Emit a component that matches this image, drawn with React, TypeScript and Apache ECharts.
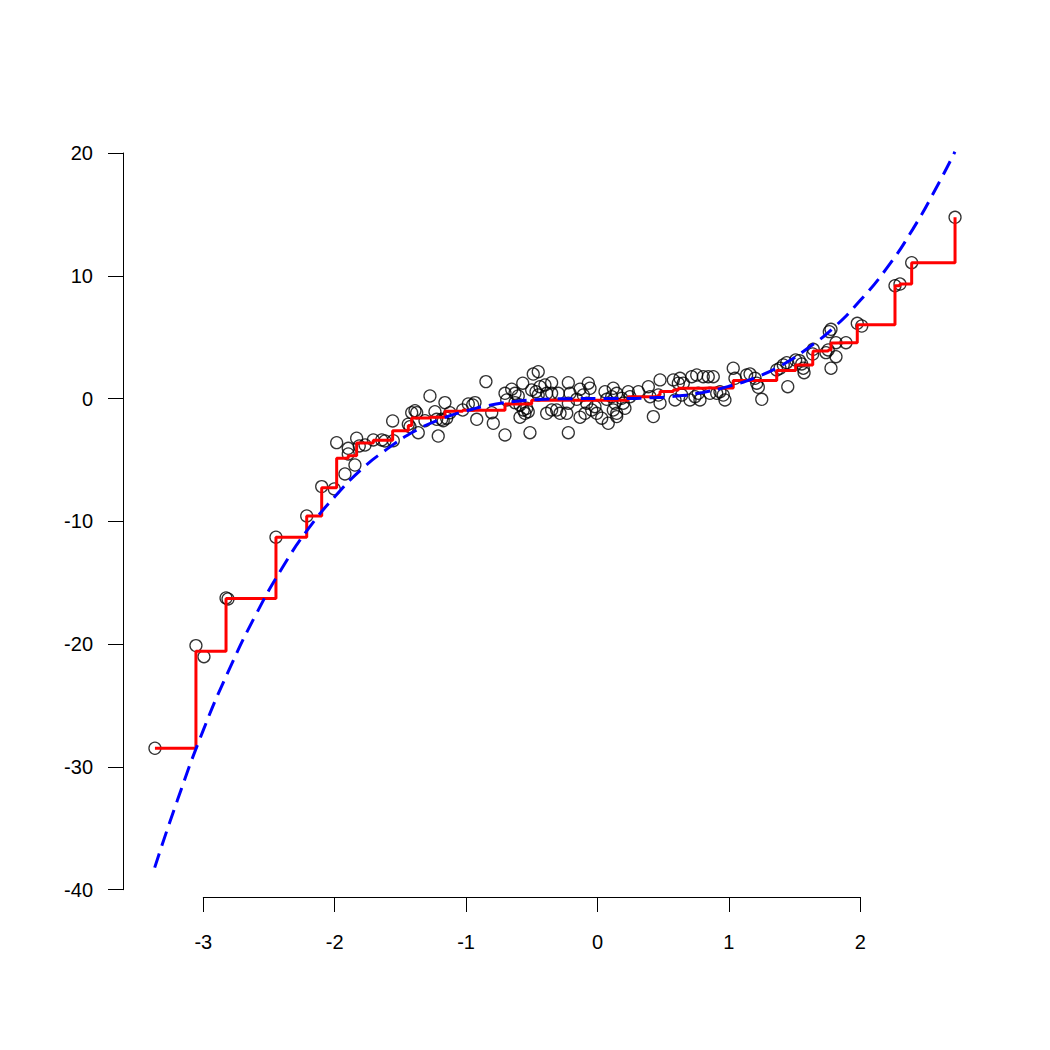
import React, { useEffect, useRef } from "react";
import * as echarts from "echarts";

// Scatter points (x, y)
const pointX: number[] = [
  -3.368, -3.056, -2.995, -2.827, -2.812, -2.447, -2.213, -2.099, -2.003, -1.985,
  -1.922, -1.897, -1.897, -1.846, -1.833, -1.813, -1.769, -1.706, -1.642, -1.617,
  -1.554, -1.559, -1.44, -1.427, -1.364, -1.414, -1.389, -1.376, -1.313, -1.275,
  -1.237, -1.212, -1.224, -1.186, -1.161, -1.174, -1.148, -1.123, -1.026, -0.983,
  -0.95, -0.932, -0.919, -0.849, -0.793, -0.805, -0.704, -0.704, -0.691, -0.653,
  -0.628, -0.628, -0.603, -0.59, -0.569, -0.565, -0.552, -0.539, -0.527, -0.514,
  -0.59, -0.489, -0.451, -0.501, -0.468, -0.451, -0.438, -0.4, -0.387, -0.349,
  -0.349, -0.387, -0.349, -0.311, -0.285, -0.298, -0.222, -0.209, -0.222, -0.234,
  -0.222, -0.133, -0.108, -0.158, -0.133, -0.095, -0.07, -0.057, -0.082, -0.019,
  -0.044, -0.006, 0.032, 0.057, 0.07, 0.12, 0.12, 0.082, 0.146, 0.108,
  0.146, 0.133, 0.146, 0.184, 0.196, 0.234, 0.247, 0.209, 0.311, 0.387,
  0.4, 0.463, 0.476, 0.425, 0.476, 0.577, 0.59, 0.615, 0.628, 0.641,
  0.653, 0.704, 0.717, 0.742, 0.755, 0.767, 0.805, 0.78, 0.843, 0.881,
  0.856, 0.907, 0.932, 0.957, 0.97, 1.033, 1.046, 1.135, 1.161, 1.199,
  1.212, 1.224, 1.25, 1.364, 1.389, 1.414, 1.44, 1.448, 1.508, 1.536,
  1.554, 1.566, 1.572, 1.638, 1.642, 1.739, 1.756, 1.815, 1.777, 1.815,
  1.891, 1.764, 1.777, 1.977, 2.011, 2.264, 2.302, 2.391, 2.721,
];
const pointY: number[] = [
  -28.48, -20.12, -21.02, -16.24, -16.32, -11.29, -9.56, -7.17, -7.36, -3.59,
  -6.14, -4.05, -4.51, -5.41, -3.23, -3.86, -3.78, -3.37, -3.37, -3.45,
  -3.43, -1.82, -2.09, -2.29, -2.78, -1.15, -0.99, -1.15, -1.8, 0.21,
  -1.07, -3.05, -1.69, -1.69, -0.33, -1.8, -1.6, -1.15, -0.93, -0.44,
  -0.52, -0.33, -1.69, 1.38, -2.01, -1.15, -2.96, 0.43, -0.11, 0.76,
  0.43, -0.33, 0.21, -0.52, 1.25, -0.93, -1.2, -0.79, -1.07, -2.78,
  -1.52, 2.0, 2.19, 0.7, 0.56, 0.29, 0.97, 1.11, 0.43, 1.29,
  0.43, -1.2, -0.93, -0.93, -1.2, 0.43, 1.29, 0.43, -0.38, -1.2,
  -2.78, 0.76, 0.29, -0.06, -1.52, -1.2, 1.25, 0.84, -0.38, -0.66,
  -0.93, -1.2, -1.6, 0.56, -0.06, 0.84, -0.93, -2.01, -1.2, 0.15,
  0.43, -0.38, -1.47, 0.02, -0.38, 0.56, 0.15, -0.79, 0.56, 0.97,
  0.15, 0.29, 1.52, -1.47, -0.38, 1.52, -0.11, 1.25, 1.65, 0.29,
  1.25, -0.11, 1.78, 0.15, 1.92, 0.43, 1.78, -0.11, 1.78, 1.78,
  0.43, 0.43, 0.56, 0.29, -0.11, 2.47, 1.65, 1.92, 2.0, 1.65,
  1.25, 0.92, -0.06, 2.33, 2.47, 2.74, 2.92, 0.97, 3.14, 3.09,
  2.82, 2.47, 2.11, 3.63, 4.01, 3.74, 3.96, 3.41, 2.47, 4.55,
  4.55, 5.45, 5.64, 6.13, 5.91, 9.19, 9.33, 11.07, 14.76,
];

// Blue dashed curve
const curveX: number[] = [
  -3.37, -3.2, -3.0, -2.8, -2.6, -2.4, -2.2, -2.0, -1.8, -1.6, -1.4, -1.2, -1.0,
  -0.8, -0.6, -0.4, -0.2, 0, 0.2, 0.4, 0.6, 0.8, 1.0, 1.2, 1.4, 1.6, 1.8, 2.0,
  2.2, 2.4, 2.6, 2.72,
];
const curveY: number[] = [
  -38.2, -32.8, -27.0, -22.0, -17.6, -13.8, -10.6, -8.0, -5.8, -4.1, -2.7, -1.7, -1.0,
  -0.5, -0.2, -0.06, -0.01, 0, 0.01, 0.06, 0.2, 0.5, 1.0, 1.7, 2.7, 4.1, 5.8, 8.0,
  10.6, 13.8, 17.6, 20.1,
];

// Axis tick labels
const xTicks: number[] = [-3, -2, -1, 0, 1, 2];
const yTicks: number[] = [-40, -30, -20, -10, 0, 10, 20];

// isotonic (monotone non-decreasing) fit of the scatter points
function isotonicFit(xs: number[], ys: number[]): [number, number][] {
  const idx = xs.map((_, i) => i).sort((a, b) => xs[a] - xs[b]);
  const blocks: { sum: number; n: number }[] = [];
  for (const i of idx) {
    blocks.push({ sum: ys[i], n: 1 });
    while (blocks.length > 1) {
      const b = blocks[blocks.length - 1];
      const a = blocks[blocks.length - 2];
      if (a.sum / a.n > b.sum / b.n) {
        a.sum += b.sum;
        a.n += b.n;
        blocks.pop();
      } else break;
    }
  }
  const fitted: number[] = [];
  for (const b of blocks) for (let k = 0; k < b.n; k++) fitted.push(b.sum / b.n);
  return idx.map((i, k) => [xs[i], fitted[k]]);
}

const FONT = "'Liberation Sans', Arial, Helvetica, sans-serif";

export default function App() {
  const ref = useRef<HTMLDivElement>(null);
  useEffect(() => {
    if (!ref.current) return;
    const chart = echarts.init(ref.current, undefined, { renderer: "svg" });
    const points = pointX.map((x, i) => [x, pointY[i]]);
    const curve = curveX.map((x, i) => [x, curveY[i]]);
    const steps = isotonicFit(pointX, pointY);

    // pixel mapping: x: -3 -> 203.3, 2 -> 860.3 ; y: 20 -> 153, -40 -> 889.7
    const pxPerX = (860.3 - 203.3) / 5;
    const x0 = 203.3 + 3 * pxPerX;
    const pxPerY = (889.7 - 153) / 60;
    const y0 = 153 + 20 * pxPerY;
    const gLeft = 123, gRight = 987, gTop = 100, gBottom = 897;
    const xMin = (gLeft - x0) / pxPerX;
    const xMax = (gRight - x0) / pxPerX;
    const yMin = (y0 - gBottom) / pxPerY;
    const yMax = (y0 - gTop) / pxPerY;

    const axisLabelStyle = { color: "#000", fontSize: 20, fontFamily: FONT };

    chart.setOption({
      animation: false,
      backgroundColor: "#fff",
      grid: [
        { left: gLeft, top: gTop, width: gRight - gLeft, height: gBottom - gTop },
        { left: 203.3, top: 887, width: 657, height: 10 },
        { left: 123, top: 153, width: 10, height: 736.7 },
      ],
      xAxis: [
        { gridIndex: 0, type: "value", min: xMin, max: xMax, show: false },
        {
          gridIndex: 1, type: "value", min: -3, max: 2, interval: 1, position: "bottom",
          axisLine: { show: true, lineStyle: { color: "#000", width: 1 } },
          axisTick: { show: true, length: 15, lineStyle: { color: "#000", width: 1 } },
          axisLabel: {
            ...axisLabelStyle, margin: 35,
            formatter: (v: number) => (xTicks.includes(v) ? String(v) : ""),
          },
          splitLine: { show: false },
        },
        { gridIndex: 2, type: "value", min: 0, max: 1, show: false },
      ],
      yAxis: [
        { gridIndex: 0, type: "value", min: yMin, max: yMax, show: false },
        { gridIndex: 1, type: "value", min: 0, max: 1, show: false },
        {
          gridIndex: 2, type: "value", min: -40, max: 20, interval: 10, position: "left",
          axisLine: { show: true, lineStyle: { color: "#000", width: 1 } },
          axisTick: { show: true, length: 15, lineStyle: { color: "#000", width: 1 } },
          axisLabel: {
            ...axisLabelStyle, margin: 30,
            formatter: (v: number) => (yTicks.includes(v) ? String(v) : ""),
          },
          splitLine: { show: false },
        },
      ],
      series: [
        {
          type: "scatter", xAxisIndex: 0, yAxisIndex: 0, data: points,
          symbol: "circle", symbolSize: 12, z: 2,
          itemStyle: { color: "rgba(0,0,0,0)", borderColor: "#000", borderWidth: 1.3 },
          silent: true,
        },
        {
          type: "line", xAxisIndex: 0, yAxisIndex: 0, data: steps, step: "end",
          showSymbol: false, z: 3,
          lineStyle: { color: "#ff0000", width: 3 },
          silent: true,
        },
        {
          type: "line", xAxisIndex: 0, yAxisIndex: 0, data: curve, smooth: true,
          showSymbol: false, z: 4,
          lineStyle: { color: "#0000ff", width: 3, type: [15, 8] },
          silent: true,
        },
      ],
    });
    return () => chart.dispose();
  }, []);
  return (
    <div
      ref={ref}
      style={{ position: "fixed", left: 0, top: 0, width: 1050, height: 1050, background: "#fff" }}
    />
  );
}
